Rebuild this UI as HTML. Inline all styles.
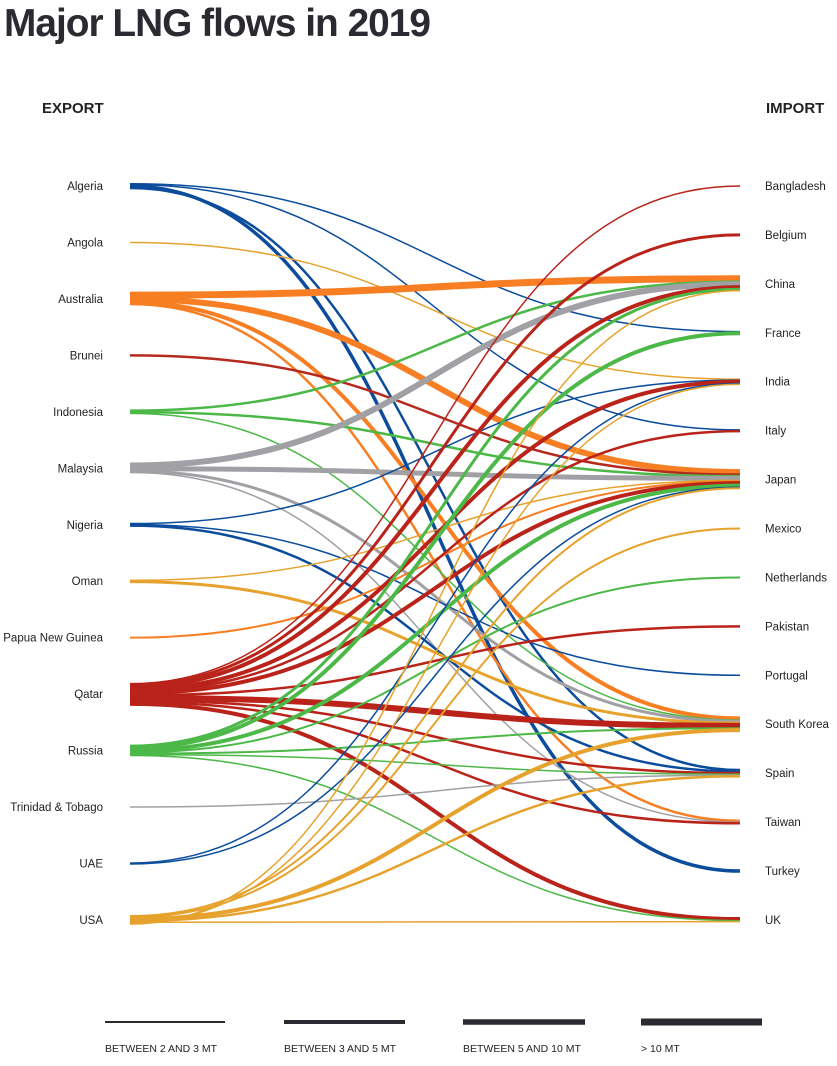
<!DOCTYPE html>
<html><head><meta charset="utf-8"><style>
body{margin:0;background:#fff;width:837px;height:1061px;overflow:hidden;font-family:"Liberation Sans",Arial,sans-serif}
</style></head><body>
<svg id="s" width="837" height="1061" xmlns="http://www.w3.org/2000/svg" font-family="Liberation Sans, Arial, sans-serif">
<text x="4" y="36" font-size="39" font-weight="bold" fill="#2a2a30" letter-spacing="-1" textLength="426" lengthAdjust="spacingAndGlyphs">Major LNG flows in 2019</text>
<text x="42" y="113" font-size="15" font-weight="bold" fill="#222">EXPORT</text>
<text x="766" y="113" font-size="15" font-weight="bold" fill="#222">IMPORT</text>
<g id="lines" fill="none"></g>
<g id="lab" font-size="11.5" fill="#222"></g>
<g stroke="#2a2a30">
<line x1="105" y1="1022" x2="225" y2="1022" stroke-width="2"/>
<line x1="284" y1="1022" x2="405" y2="1022" stroke-width="4"/>
<line x1="463" y1="1022" x2="585" y2="1022" stroke-width="5.5"/>
<line x1="641" y1="1022" x2="762" y2="1022" stroke-width="7"/>
</g>
<g font-size="10.5" fill="#222">
<text x="105" y="1052">BETWEEN 2 AND 3 MT</text>
<text x="284" y="1052">BETWEEN 3 AND 5 MT</text>
<text x="463" y="1052">BETWEEN 5 AND 10 MT</text>
<text x="641" y="1052">&gt; 10 MT</text>
</g>
</svg>
<script>
const ex=["Algeria","Angola","Australia","Brunei","Indonesia","Malaysia","Nigeria","Oman","Papua New Guinea","Qatar","Russia","Trinidad & Tobago","UAE","USA"];
const im=["Bangladesh","Belgium","China","France","India","Italy","Japan","Mexico","Netherlands","Pakistan","Portugal","South Korea","Spain","Taiwan","Turkey","UK"];
const ey=i=>186+i*56.46, iy=i=>186+i*48.93;
const col={Algeria:"#0b4c9c",Angola:"#e6a22c",Australia:"#f77e23",Brunei:"#b52a1f",Indonesia:"#4cb848",Malaysia:"#a0a0a5",Nigeria:"#0b4c9c",Oman:"#e6a22c","Papua New Guinea":"#f77e23",Qatar:"#b9231a",Russia:"#4cb848","Trinidad & Tobago":"#a0a0a5",UAE:"#0b4c9c",USA:"#e6a22c"};
const F=[
["Algeria","France",1.5],["Algeria","Italy",1.5],["Algeria","Turkey",3.5],["Algeria","Spain",2.5],
["Angola","India",1.5],
["Australia","China",7],["Australia","Japan",6],["Australia","South Korea",4],["Australia","Taiwan",2.5],
["Brunei","Japan",2.5],
["Indonesia","China",2.5],["Indonesia","Japan",2.5],["Indonesia","South Korea",1.5],
["Malaysia","China",6],["Malaysia","Japan",5],["Malaysia","South Korea",3],["Malaysia","Taiwan",1.5],
["Nigeria","India",1.5],["Nigeria","Portugal",1.5],["Nigeria","Spain",2.5],
["Oman","Japan",1.5],["Oman","South Korea",3],
["Papua New Guinea","Japan",2],
["Qatar","Bangladesh",1.5],["Qatar","Belgium",3],["Qatar","China",4],["Qatar","India",4],["Qatar","Italy",2.5],["Qatar","Japan",4],["Qatar","Pakistan",2.5],["Qatar","South Korea",6],["Qatar","Spain",2.5],["Qatar","Taiwan",2.5],["Qatar","UK",4],
["Russia","China",3],["Russia","France",4],["Russia","Japan",4],["Russia","Netherlands",2],["Russia","South Korea",2],["Russia","Spain",1.5],["Russia","UK",1.5],
["Trinidad & Tobago","Spain",1.5],
["UAE","India",1.5],["UAE","Japan",1.5],
["USA","Japan",2],["USA","Mexico",2],["USA","South Korea",4],["USA","Spain",2.5],["USA","UK",1.5],["USA","India",1.5],["USA","China",1.5]
];
const eo={},io={},ec={},ic={};
F.forEach(f=>{ec[f[0]]=(ec[f[0]]||0)+f[2];ic[f[1]]=(ic[f[1]]||0)+f[2];});
const ns="http://www.w3.org/2000/svg",g=document.getElementById("lines");
F.forEach(([a,b,w])=>{
 eo[a]=eo[a]||0;io[b]=io[b]||0;
 const y1=ey(ex.indexOf(a))-ec[a]/2*0.6+eo[a]*0.6+w*0.3, y2=iy(im.indexOf(b))-ic[b]/2*0.6+io[b]*0.6+w*0.3;
 eo[a]+=w;io[b]+=w;
 const p=document.createElementNS(ns,"path");
 p.setAttribute("d",`M130,${y1} C435,${y1} 435,${y2} 740,${y2}`);
 p.setAttribute("stroke",col[a]);p.setAttribute("stroke-width",w);g.appendChild(p);
});
const L=document.getElementById("lab");
ex.forEach((n,i)=>{const t=document.createElementNS(ns,"text");t.setAttribute("x",103);t.setAttribute("y",ey(i)+4);t.setAttribute("text-anchor","end");t.textContent=n;L.appendChild(t);});
im.forEach((n,i)=>{const t=document.createElementNS(ns,"text");t.setAttribute("x",765);t.setAttribute("y",iy(i)+4);t.textContent=n;L.appendChild(t);});
</script>
</body></html>
